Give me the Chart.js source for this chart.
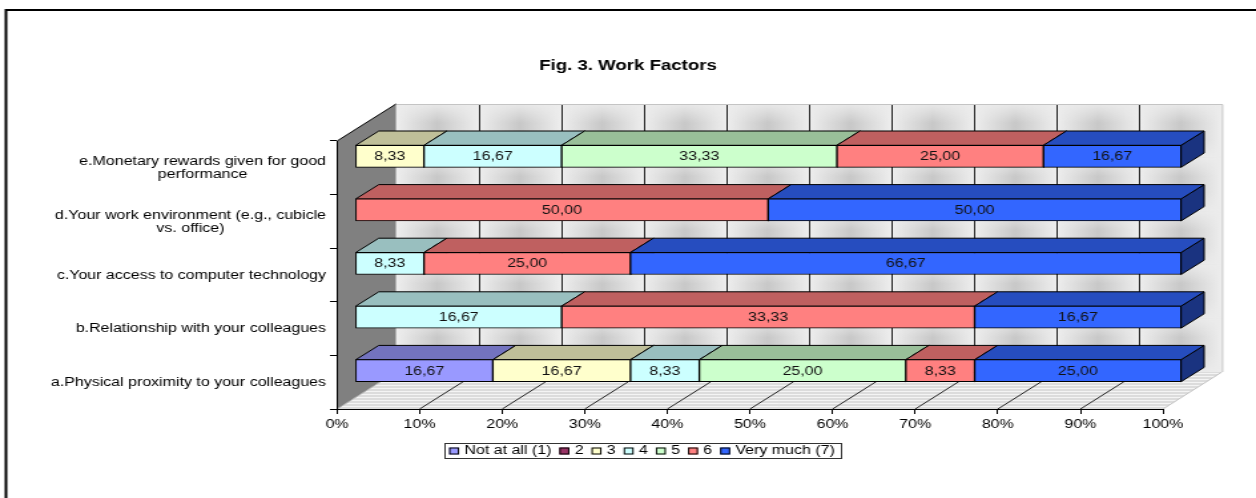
<!DOCTYPE html>
<html>
<head>
<meta charset="utf-8">
<script src="https://cdn.jsdelivr.net/npm/chart.js"></script>
<style>
  html, body { margin: 0; padding: 0; background: #ffffff; overflow: hidden; }
  #c { display: block; width: 1256px !important; height: 498px !important; }
</style>
</head>
<body>
<canvas id="c" width="944" height="498" style="width:1256px;height:498px"></canvas>
<script>
// ---------------- DATA ----------------
const categories = [
  'a.Physical proximity to your colleagues',
  'b.Relationship with your colleagues',
  'c.Your access to computer technology',
  ['d.Your work environment (e.g., cubicle', 'vs. office)'],
  ['e.Monetary rewards given for good', 'performance']
];
const seriesNames = ['Not at all (1)', '2', '3', '4', '5', '6', 'Very much (7)'];
const notAtAll = [16.67, 0, 0, 0, 0];
const level2   = [0, 0, 0, 0, 0];
const level3   = [16.67, 0, 0, 0, 8.33];
const level4   = [8.33, 16.67, 8.33, 0, 16.67];
const level5   = [25.00, 0, 0, 0, 33.33];
const level6   = [8.33, 33.33, 25.00, 50.00, 25.00];
const veryMuch = [25.00, 16.67, 66.67, 50.00, 16.67];
const xTickValues = [0, 10, 20, 30, 40, 50, 60, 70, 80, 90, 100];
const xTickLabels = ['0%', '10%', '20%', '30%', '40%', '50%', '60%', '70%', '80%', '90%', '100%'];
const chartTitle = 'Fig. 3. Work Factors';

// ---------------- STYLE ----------------
const FONT = '"Liberation Sans", Arial, Helvetica, sans-serif';
const FRONT_COLORS = ['#9999FF', '#993366', '#FFFFCC', '#CCFFFF', '#CCFFCC', '#FF8080', '#3366FF'];
const WALL = { x: 44.3, y: -37 };     // full 3D depth of the plot box
const FRONT = { x: 13.6, y: -11.5 };  // offset of bar front faces
const BDEPTH = { x: 17.3, y: -14.3 }; // depth of each bar
const LEGEND_CX = 482.5, LEGEND_TOP = 443, LEGEND_H = 15;
const YLABEL_RIGHT = 245;

function shade(hex, f) {
  const n = parseInt(hex.slice(1), 16);
  const r = (n >> 16) & 255, g = (n >> 8) & 255, b = n & 255;
  return 'rgb(' + Math.round(r * f) + ',' + Math.round(g * f) + ',' + Math.round(b * f) + ')';
}
function poly(ctx, pts, fill, stroke) {
  ctx.beginPath();
  ctx.moveTo(pts[0][0], pts[0][1]);
  for (let i = 1; i < pts.length; i++) ctx.lineTo(pts[i][0], pts[i][1]);
  ctx.closePath();
  if (fill) { ctx.fillStyle = fill; ctx.fill(); }
  if (stroke) { ctx.strokeStyle = stroke; ctx.lineWidth = 1; ctx.stroke(); }
}
function fmt(v) { return v.toFixed(2).replace('.', ','); }

// ---------------- BUILD TABLE ----------------
const raw = [notAtAll, level2, level3, level4, level5, level6, veryMuch];
const rowTotals = categories.map((_, j) => raw.reduce((s, arr) => s + arr[j], 0));
const datasets = raw.map((arr, i) => ({
  label: seriesNames[i],
  data: arr.map((v, j) => v / rowTotals[j] * 100),
  rawValues: arr,
  backgroundColor: FRONT_COLORS[i],
  borderColor: '#000000',
  borderWidth: 1,
  borderSkipped: false,
  barThickness: 22,
  clip: false,
  stack: 's'
}));

// ---------------- PLUGINS ----------------
const scenePlugin = {
  id: 'scene3d',
  beforeDraw(chart) {
    const ctx = chart.ctx, a = chart.chartArea;
    const L = a.left, R = a.right, T = a.top, B = a.bottom;
    const xs = chart.scales.x;
    ctx.save();
    ctx.fillStyle = '#ffffff';
    ctx.fillRect(0, 0, chart.width, chart.height);
    // outer frame
    ctx.strokeStyle = '#000000';
    ctx.lineWidth = 2;
    ctx.beginPath();
    ctx.moveTo(4.5, chart.height + 5); ctx.lineTo(4.5, 10); ctx.lineTo(chart.width + 5, 10);
    ctx.stroke();

    // back wall
    const bl = L + WALL.x, br = R + WALL.x, bt = T + WALL.y, bb = B + WALL.y;
    ctx.fillStyle = '#E8E8E8';
    ctx.fillRect(bl, bt, br - bl, bb - bt);
    ctx.save();
    ctx.beginPath(); ctx.rect(bl, bt, br - bl, bb - bt); ctx.clip();
    const nRows = categories.length;
    const bandH = (B - T) / nRows;
    for (let c = 0; c < xTickValues.length - 1; c++) {
      const x0 = xs.getPixelForValue(xTickValues[c]) + WALL.x;
      const x1 = xs.getPixelForValue(xTickValues[c + 1]) + WALL.x;
      const cx = (x0 + x1) / 2;
      for (let k = 0; k < nRows; k++) {
        const y0 = bt + k * bandH, y1 = y0 + bandH;
        const g = ctx.createLinearGradient(x0, 0, x1, 0);
        g.addColorStop(0, 'rgba(238,238,238,1)');
        g.addColorStop(0.5, 'rgba(200,200,200,1)');
        g.addColorStop(1, 'rgba(238,238,238,1)');
        ctx.fillStyle = g;
        ctx.fillRect(x0, y0, x1 - x0, bandH);
        const gv = ctx.createLinearGradient(0, y0, 0, y1);
        gv.addColorStop(0, 'rgba(236,236,236,0.9)');
        gv.addColorStop(0.35, 'rgba(236,236,236,0)');
        gv.addColorStop(0.65, 'rgba(236,236,236,0)');
        gv.addColorStop(1, 'rgba(236,236,236,0.9)');
        ctx.fillStyle = gv;
        ctx.fillRect(x0, y0, x1 - x0, bandH);
      }
    }
    ctx.restore();
    // wall grid lines
    ctx.strokeStyle = '#222222';
    ctx.lineWidth = 1;
    for (let i = 1; i < xTickValues.length - 1; i++) {
      const px = Math.round(xs.getPixelForValue(xTickValues[i]) + WALL.x) + 0.5;
      ctx.beginPath(); ctx.moveTo(px, bt); ctx.lineTo(px, bb); ctx.stroke();
    }
    ctx.strokeStyle = '#C4C4C4';
    ctx.beginPath(); ctx.moveTo(bl, bt + 0.5); ctx.lineTo(br + 0.5, bt + 0.5); ctx.lineTo(br + 0.5, bb); ctx.stroke();

    // floor
    const floorPts = [[L, B], [R, B], [R + WALL.x, B + WALL.y], [L + WALL.x, B + WALL.y]];
    poly(ctx, floorPts, '#DCDCDC', null);
    ctx.save();
    poly(ctx, floorPts, null, null);
    ctx.clip();
    ctx.strokeStyle = '#F4F4F4';
    for (let y = B + WALL.y + 1; y < B; y += 3) {
      ctx.beginPath(); ctx.moveTo(L, y + 0.5); ctx.lineTo(R + WALL.x, y + 0.5); ctx.stroke();
    }
    ctx.restore();
    ctx.strokeStyle = '#222222';
    for (let i = 1; i < xTickValues.length - 1; i++) {
      const px = xs.getPixelForValue(xTickValues[i]);
      ctx.beginPath(); ctx.moveTo(px, B); ctx.lineTo(px + WALL.x, B + WALL.y); ctx.stroke();
    }
    ctx.strokeStyle = '#C4C4C4';
    ctx.beginPath(); ctx.moveTo(R, B); ctx.lineTo(R + WALL.x, B + WALL.y); ctx.stroke();

    // side wall
    poly(ctx, [[L, T], [L + WALL.x, T + WALL.y], [L + WALL.x, B + WALL.y], [L, B]], '#808080', null);
    ctx.strokeStyle = '#000000';
    ctx.beginPath(); ctx.moveTo(L, T); ctx.lineTo(L + WALL.x, T + WALL.y); ctx.stroke();
    ctx.strokeStyle = '#B0B0B0';
    ctx.beginPath(); ctx.moveTo(L, B); ctx.lineTo(L + WALL.x, B + WALL.y); ctx.stroke();
    ctx.restore();
  },
  beforeDatasetsDraw(chart) {
    const ctx = chart.ctx;
    ctx.save();
    ctx.translate(FRONT.x, FRONT.y);
    const nDs = chart.data.datasets.length;
    for (let j = 0; j < categories.length; j++) {
      for (let i = 0; i < nDs; i++) {
        const el = chart.getDatasetMeta(i).data[j];
        if (!el) continue;
        const p = el.getProps(['x', 'y', 'base', 'height'], true);
        if (Math.abs(p.x - p.base) < 0.5) continue;
        const l = Math.min(p.x, p.base), r = Math.max(p.x, p.base);
        const t = p.y - p.height / 2, b = p.y + p.height / 2;
        const col = FRONT_COLORS[i];
        poly(ctx, [[r, t], [r + BDEPTH.x, t + BDEPTH.y], [r + BDEPTH.x, b + BDEPTH.y], [r, b]], shade(col, 0.5), '#000000');
        poly(ctx, [[l, t], [l + BDEPTH.x, t + BDEPTH.y], [r + BDEPTH.x, t + BDEPTH.y], [r, t]], shade(col, 0.75), '#000000');
      }
    }
    // keep translation for the library's own bar fronts
  },
  afterDatasetsDraw(chart) {
    const ctx = chart.ctx;
    ctx.font = '12px ' + FONT;
    ctx.fillStyle = '#111111';
    ctx.textAlign = 'center';
    ctx.textBaseline = 'middle';
    chart.data.datasets.forEach((ds, i) => {
      chart.getDatasetMeta(i).data.forEach((el, j) => {
        const v = ds.rawValues[j];
        if (!v) return;
        const p = el.getProps(['x', 'y', 'base'], true);
        ctx.fillText(fmt(v), (p.x + p.base) / 2, p.y + 0.5);
      });
    });
    ctx.restore();
  },
  afterDraw(chart) {
    const ctx = chart.ctx, ys = chart.scales.y;
    ctx.save();
    // category labels (right-aligned blocks, centred lines)
    ctx.font = '12px ' + FONT;
    ctx.fillStyle = '#000000';
    ctx.textAlign = 'center';
    ctx.textBaseline = 'middle';
    categories.forEach((lab, j) => {
      const lines = Array.isArray(lab) ? lab : [lab];
      const w = Math.max(...lines.map(s => ctx.measureText(s).width));
      const cx = YLABEL_RIGHT - w / 2;
      const cy = ys.getPixelForValue(j);
      const step = 13;
      lines.forEach((s, k) => {
        ctx.fillText(s, cx, cy + (k - (lines.length - 1) / 2) * step + 0.5);
      });
    });
    // legend
    const sw = 7.5, sh = 7, gapS = 4, gapI = 6, margin = 4;
    const widths = seriesNames.map(s => ctx.measureText(s).width);
    let total = margin * 2 + gapI * (seriesNames.length - 1);
    widths.forEach(w => { total += sw + gapS + w; });
    const left = LEGEND_CX - total / 2;
    ctx.fillStyle = '#ffffff';
    ctx.fillRect(left, LEGEND_TOP, total, LEGEND_H);
    ctx.strokeStyle = '#333333';
    ctx.lineWidth = 1;
    ctx.strokeRect(Math.round(left) + 0.5, LEGEND_TOP + 0.5, Math.round(total), LEGEND_H);
    const cy = LEGEND_TOP + LEGEND_H / 2 + 0.5;
    let x = left + margin;
    ctx.textAlign = 'left';
    seriesNames.forEach((s, i) => {
      ctx.fillStyle = FRONT_COLORS[i];
      ctx.fillRect(x, cy - sh / 2, sw, sh);
      ctx.strokeStyle = '#000000';
      ctx.strokeRect(x + 0.5, cy - sh / 2 + 0.5, sw - 1, sh - 1);
      x += sw + gapS;
      ctx.fillStyle = '#000000';
      ctx.fillText(s, x, cy);
      x += widths[i] + gapI;
    });
    ctx.restore();
  }
};

// ---------------- CHART ----------------
new Chart(document.getElementById('c'), {
  type: 'bar',
  data: { labels: categories, datasets: datasets },
  plugins: [scenePlugin],
  options: {
    indexAxis: 'y',
    responsive: false,
    maintainAspectRatio: false,
    animation: false,
    events: [],
    layout: { padding: { left: 0, right: 0, top: 0, bottom: 59 } },
    plugins: {
      legend: { display: false },
      tooltip: { enabled: false },
      title: {
        display: true,
        text: chartTitle,
        color: '#000000',
        font: { family: FONT, size: 14, weight: 'bold' },
        padding: { top: 57.6, bottom: 66.6 }
      }
    },
    scales: {
      x: {
        stacked: true,
        min: 0,
        max: 100,
        ticks: {
          stepSize: 10,
          autoSkip: false,
          maxRotation: 0,
          padding: 3,
          color: '#000000',
          font: { family: FONT, size: 12 },
          callback: (v) => xTickLabels[xTickValues.indexOf(v)]
        },
        grid: { drawOnChartArea: false, drawTicks: true, tickLength: 5, color: '#000000' },
        border: { display: true, color: '#000000' },
        afterFit: (s) => { s.height = 30; }
      },
      y: {
        stacked: true,
        reverse: true,
        ticks: { display: false },
        grid: { drawOnChartArea: false, drawTicks: true, tickLength: 5.3, color: '#000000', offset: true },
        border: { display: true, color: '#000000' },
        afterFit: (s) => { s.width = 253.3; }
      },
      yRight: {
        type: 'linear',
        axis: 'y',
        position: 'right',
        min: 0,
        max: 1,
        display: true,
        ticks: { display: false },
        grid: { display: false },
        border: { display: false },
        afterFit: (s) => { s.width = 69.9; }
      }
    }
  }
});
</script>
</body>
</html>
